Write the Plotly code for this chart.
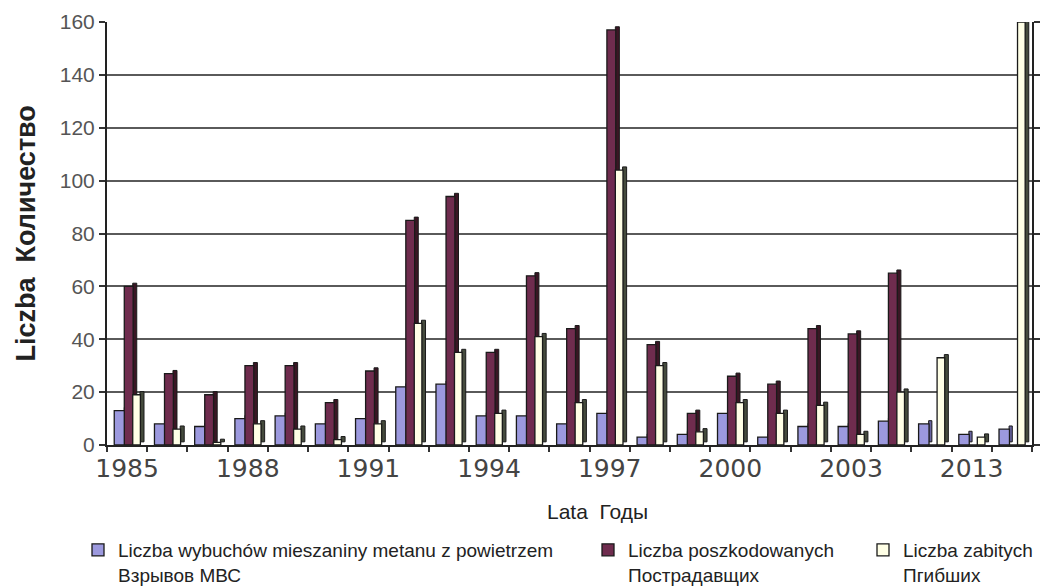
import plotly.graph_objects as go

# Category slots along the x axis
YEARS = ["1985", "1986", "1987", "1988", "1989", "1990", "1991", "1992",
         "1993", "1994", "1995", "1996", "1997", "1998", "1999", "2000",
         "2001", "2002", "2003", "2004", "2005", "2013", "2014"]
TICK_LABELS = ["1985", "1988", "1991", "1994", "1997", "2000", "2003", "2013"]

# Series values
EXPLOSIONS = [13, 8, 7, 10, 11, 8, 10, 22, 23, 11, 11, 8, 12, 3, 4, 12, 3, 7, 7, 9, 8, 4, 6]
INJURED = [60, 27, 19, 30, 30, 16, 28, 85, 94, 35, 64, 44, 157, 38, 12, 26, 23, 44, 42, 65, 0, 0, 0]
KILLED = [19, 6, 1, 8, 6, 2, 8, 46, 35, 12, 41, 16, 104, 30, 5, 16, 12, 15, 4, 20, 33, 3, 160]

NAMES = [
    "Liczba wybuchów mieszaniny metanu z powietrzem<br>Взрывов МВС",
    "Liczba poszkodowanych<br>Пострадавщих",
    "Liczba zabitych<br>Пгибших",
]

# (face colour, side colour, face offset, face width, side width)
STYLES = [
    ("#9C99DE", "#67639F", -0.32, 0.26, 0.08),
    ("#6F2C4E", "#3A1624", -0.07, 0.22, 0.10),
    ("#FFFFE6", "#454B3D", 0.14, 0.19, 0.10),
]
DEPTH = 1.2  # vertical lift of the shaded side, in data units

# one legend box per series, laid out side by side under the axis title
LEGEND_IDS = ["legend", "legend2", "legend3"]
LEGEND_X = [78, 588, 863]

fig = go.Figure()
for vals, name, (face, side, off, w, sw), lid in zip(
        [EXPLOSIONS, INJURED, KILLED], NAMES, STYLES, LEGEND_IDS):
    # shaded right-hand side of each column
    fig.add_trace(go.Bar(
        x=YEARS, y=vals, base=DEPTH, offset=off + w - 0.01, width=sw,
        marker=dict(color=side, line=dict(color="#1a1a1a", width=1)),
        showlegend=False, hoverinfo="skip"))
    # front face
    fig.add_trace(go.Bar(
        x=YEARS, y=vals, name=name, offset=off, width=w, legend=lid,
        marker=dict(color=face, line=dict(color="#1a1a1a", width=1.3))))

ticktext = [y if y in TICK_LABELS else "" for y in YEARS]

legend_style = dict(orientation="h", xref="container", yref="container",
                    xanchor="left", y=1 - 531 / 586, yanchor="top", valign="top",
                    font=dict(family="Liberation Sans, Arial", size=19, color="#222"),
                    itemwidth=30, bgcolor="rgba(0,0,0,0)")

fig.update_layout(
    width=1044, height=586,
    margin=dict(l=107, r=12, t=22, b=141),
    paper_bgcolor="white", plot_bgcolor="white",
    barmode="overlay",
    showlegend=True,
    legend=dict(legend_style, x=LEGEND_X[0] / 1044),
    legend2=dict(legend_style, x=LEGEND_X[1] / 1044),
    legend3=dict(legend_style, x=LEGEND_X[2] / 1044),
    xaxis=dict(
        type="category", tickvals=YEARS, ticktext=ticktext, tickson="boundaries",
        tickangle=0, automargin=False,
        ticks="outside", ticklen=5, tickcolor="#333", tickwidth=1.5,
        showline=True, linecolor="#222", linewidth=2,
        showgrid=False, zeroline=False,
        tickfont=dict(family="DejaVu Sans", size=25, color="#444"),
        range=[-0.5, len(YEARS) - 0.5],
    ),
    yaxis=dict(
        range=[0, 160], dtick=20, tick0=0, automargin=False,
        ticks="outside", ticklen=6, tickcolor="#333", tickwidth=1.5,
        showline=True, linecolor="#222", linewidth=2, mirror="ticks",
        showgrid=True, gridcolor="#5a5a5a", gridwidth=1.5,
        zeroline=False,
        tickfont=dict(family="Liberation Sans, Arial", size=21, color="#555"),
    ),
    annotations=[
        dict(text="<b>Liczba  Количество</b>", textangle=-90, xref="paper", yref="paper",
             x=-0.0886, y=0.5, xanchor="center", yanchor="middle", showarrow=False,
             font=dict(family="Liberation Sans, Arial", size=27, color="#222")),
        dict(text="Lata  Годы", xref="paper", yref="paper",
             x=0.53, y=-0.158, xanchor="center", yanchor="middle", showarrow=False,
             font=dict(family="Liberation Sans, Arial", size=21, color="#222")),
    ],
)

fig.write_html("out.html")
